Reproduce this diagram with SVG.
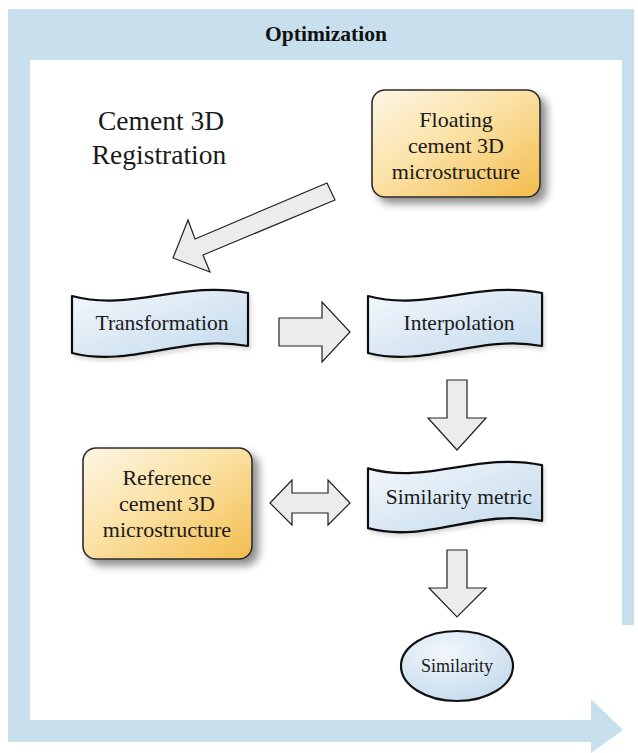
<svg xmlns="http://www.w3.org/2000/svg" width="638" height="753" viewBox="0 0 638 753">
<style>
.frame{fill:#c8dfee}
.lbl{font-family:"Liberation Serif","Times New Roman",serif;fill:#1a1a1a;text-anchor:middle}
.title{font-family:"Liberation Serif","Times New Roman",serif;font-weight:bold;font-size:21.5px;fill:#111;text-anchor:middle}
.box{fill:url(#gBox);stroke:#2b2b2b;stroke-width:1.6}
.tape{fill:url(#gTape);stroke:#111;stroke-width:2.2;stroke-linejoin:round}
.arr{fill:#ececec;stroke:#222;stroke-width:1.2;stroke-linejoin:miter}
</style>
<defs>
<linearGradient id="gBox" x1="0" y1="0" x2="1" y2="1">
<stop offset="0" stop-color="#fdf6e6"/>
<stop offset="0.45" stop-color="#fbe2a6"/>
<stop offset="1" stop-color="#f3bc4c"/>
</linearGradient>
<linearGradient id="gTape" x1="0" y1="0" x2="1" y2="1">
<stop offset="0" stop-color="#f4f8fc"/>
<stop offset="1" stop-color="#c2d9ec"/>
</linearGradient>
<radialGradient id="gEll" cx="0.4" cy="0.3" r="0.8">
<stop offset="0" stop-color="#f2f7fb"/>
<stop offset="1" stop-color="#c2d9ec"/>
</radialGradient>
<filter id="sh" x="-20%" y="-20%" width="150%" height="150%">
<feGaussianBlur in="SourceAlpha" stdDeviation="4"/>
<feOffset dx="6" dy="6" result="b"/>
<feComponentTransfer><feFuncA type="linear" slope="0.45"/></feComponentTransfer>
<feMerge><feMergeNode/><feMergeNode in="SourceGraphic"/></feMerge>
</filter>
<filter id="sh2" x="-20%" y="-20%" width="150%" height="150%">
<feGaussianBlur in="SourceAlpha" stdDeviation="2"/>
<feOffset dx="2" dy="3" result="b"/>
<feComponentTransfer><feFuncA type="linear" slope="0.15"/></feComponentTransfer>
<feMerge><feMergeNode/><feMergeNode in="SourceGraphic"/></feMerge>
</filter>
<path id="tapeShape" d="M0,6 C60,22 110,-10 176,3 L176,56 C110,44 60,78 0,63 Z"/>
</defs>

<g id="frame">
<path class="frame" d="M8,9 H634 V625 H622 V60 H30 V720 H591 V699 L623,730 L591,753 V742 H8 Z"/>
<text class="title" x="326" y="41">Optimization</text>
</g>

<g id="heading">
<text class="lbl" x="161" y="130" font-size="27.5">Cement 3D</text>
<text class="lbl" x="159" y="164" font-size="27.5">Registration</text>
</g>

<g id="connectors">
<polygon class="arr" points="327,183 335,200 203,255 210,272 173,258 188,220 195,239"/>
<polygon class="arr" points="279,318 322,318 322,302 350,332 322,362 322,346 279,346"/>
<polygon class="arr" points="447,380 467,380 467,418 486,418 457,450 428,418 447,418"/>
<polygon class="arr" points="447,550 467,550 467,588 486,588 457,617 429,588 447,588"/>
<polygon class="arr" points="270,503 292,480 292,493 328,493 328,480 350,503 328,525 328,513 292,513 292,525"/>
</g>

<g id="floating">
<rect class="box" x="372" y="90" width="168" height="107" rx="13" filter="url(#sh)"/>
<text class="lbl" x="456" y="127" font-size="22">Floating</text>
<text class="lbl" x="456" y="153" font-size="22">cement 3D</text>
<text class="lbl" x="456" y="179" font-size="22">microstructure</text>
</g>

<g id="reference">
<rect class="box" x="83" y="448" width="169" height="111" rx="13" filter="url(#sh)"/>
<text class="lbl" x="167" y="485" font-size="22">Reference</text>
<text class="lbl" x="167" y="511" font-size="22">cement 3D</text>
<text class="lbl" x="167" y="537" font-size="22">microstructure</text>
</g>

<g id="transformation">
<use href="#tapeShape" class="tape" transform="translate(72,290)" filter="url(#sh2)"/>
<text class="lbl" x="162" y="330" font-size="21.5">Transformation</text>
</g>

<g id="interpolation">
<use href="#tapeShape" class="tape" transform="translate(368,290) scale(0.989,1)" filter="url(#sh2)"/>
<text class="lbl" x="459" y="330" font-size="21.5">Interpolation</text>
</g>

<g id="similarity-metric">
<use href="#tapeShape" class="tape" transform="translate(368,462) scale(0.989,1.05)" filter="url(#sh2)"/>
<text class="lbl" x="459" y="504" font-size="21.5">Similarity metric</text>
</g>

<g id="similarity">
<ellipse cx="457" cy="666" rx="56" ry="35" fill="url(#gEll)" stroke="#111" stroke-width="2.2"/>
<text class="lbl" x="457" y="672" font-size="18">Similarity</text>
</g>
</svg>
